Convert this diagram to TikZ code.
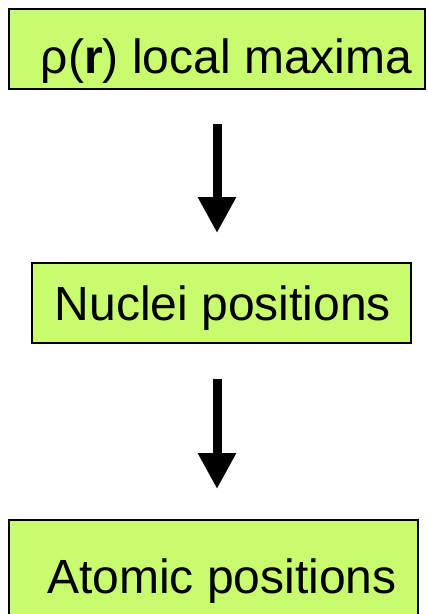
\documentclass[tikz,border=0pt]{standalone}
\usepackage{fontspec}
\setmainfont{Liberation Sans}
\usetikzlibrary{arrows.meta}
\definecolor{boxgreen}{RGB}{200,252,110}
\begin{document}
\begin{tikzpicture}[x=1pt,y=-1pt,
  greenbox/.style={draw=black,line width=2pt,fill=boxgreen,rectangle,inner sep=0pt},
  boxtext/.style={anchor=base,inner sep=0pt,font=\fontsize{48pt}{56pt}\selectfont},
  bigarrow/.style={line width=9pt,-{Triangle[width=36pt,length=36pt]}}]
\useasboundingbox (0,0) rectangle (428,614);
\clip (0,0) rectangle (428,614);
\node[greenbox,minimum width=416pt,minimum height=80pt] (top) at (217,49) {};
\node[greenbox,minimum width=379pt,minimum height=80pt] (mid) at (221.5,303) {};
\node[greenbox,minimum width=409pt,minimum height=110pt] (bot) at (213.5,575) {};
\node[boxtext] (toptext) at (226.5,73) {ρ(\textbf{r}) local maxima};
\node[boxtext] (midtext) at (223,320) {Nuclei positions};
\node[boxtext] (bottext) at (222,593) {Atomic positions};
\draw[bigarrow,shorten <=34pt,shorten >=29pt] (top.south) -- (top.south |- mid.north);
\draw[bigarrow,shorten <=35pt,shorten >=30pt] (mid.south -| top.south) -- (bot.north -| top.south);
\end{tikzpicture}
\end{document}
